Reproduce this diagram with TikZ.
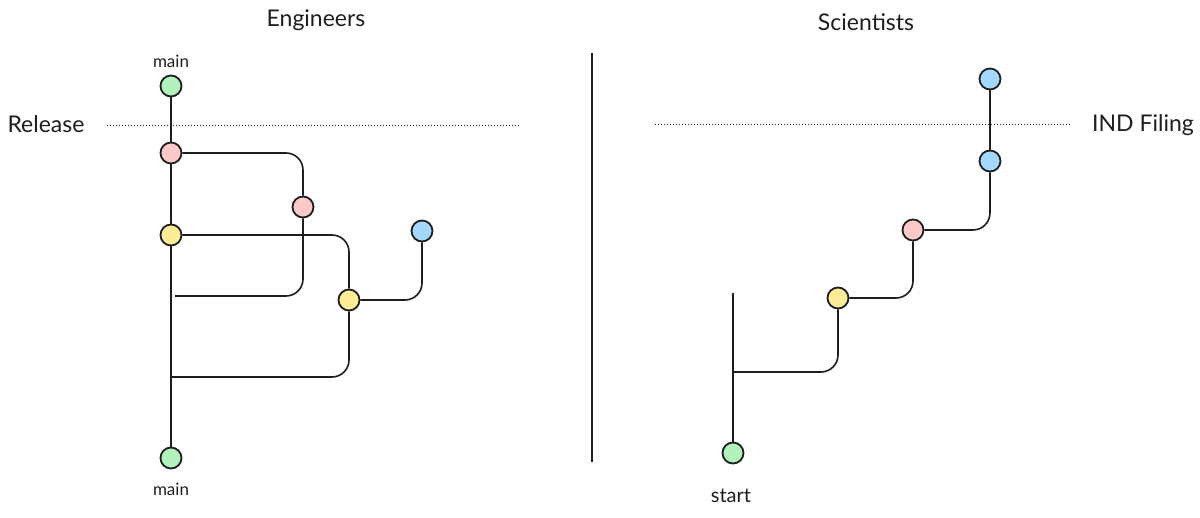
\documentclass[tikz,border=0pt]{standalone}
\usepackage{fontspec}
\setmainfont{Lato}
\usetikzlibrary{backgrounds}
\definecolor{stroke}{HTML}{1E1E1E}
\definecolor{cgreen}{HTML}{B2F2BB}
\definecolor{cpink}{HTML}{FFC9C9}
\definecolor{cyellow}{HTML}{FFEC99}
\definecolor{cblue}{HTML}{A5D8FF}
\tikzset{
  commit/.style={circle, draw=stroke, line width=1.8pt, minimum size=21pt, inner sep=0pt},
  gnode/.style={commit, fill=cgreen},
  pnode/.style={commit, fill=cpink},
  ynode/.style={commit, fill=cyellow},
  bnode/.style={commit, fill=cblue},
  branch/.style={draw=stroke, line width=1.6pt, rounded corners=17pt},
  trunk/.style={draw=stroke, line width=1.2pt},
  title/.style={font=\fontsize{23}{27}\selectfont, text=stroke},
  label/.style={font=\fontsize{23}{27}\selectfont, text=stroke},
  small/.style={font=\fontsize{17}{20}\selectfont, text=stroke},
  startlbl/.style={font=\fontsize{20}{24}\selectfont, text=stroke},
  milestone/.style={draw=stroke, line width=1pt, dotted},
}
\begin{document}
\begin{tikzpicture}[x=1pt,y=-1pt]
\useasboundingbox (0,0) rectangle (1200,518);
% ---------- Engineers ----------
\node[title] (teng) at (316,20) {Engineers};
\node[small] (mtop) at (171,61) {main};
\node[gnode] (gt) at (171,86) {};
\node[pnode] (pk1) at (171,153) {};
\node[pnode] (pk2) at (303,207) {};
\node[ynode] (yl1) at (171,235) {};
\node[bnode] (bl) at (422,231) {};
\node[ynode] (yl2) at (349,300) {};
\node[gnode] (gb) at (171,458) {};
\node[small] (mbot) at (171,489) {main};
\node[label] (rel) at (46,124) {Release};
\coordinate (rl0) at (107,126);
\coordinate (rl1) at (520,126);
\coordinate (m1) at (175,296);
\coordinate (m2) at (171,377);
% divider
\coordinate (d0) at (592,53);
\coordinate (d1) at (592,462);
% ---------- Scientists ----------
\node[title] (tsci) at (866,22) {Scientists};
\node[bnode] (sb1) at (990,79) {};
\node[bnode] (sb2) at (990,161) {};
\node[pnode] (sp) at (913,230) {};
\node[ynode] (sy) at (838,298) {};
\node[gnode] (sg) at (733,453) {};
\node[startlbl] (st) at (731,496) {start};
\node[label] (ind) at (1143,125) {IND Filing};
\coordinate (il0) at (655,125);
\coordinate (il1) at (1070,125);
\coordinate (s1) at (733,372);
\coordinate (s2) at (733,293);

\begin{scope}[on background layer]
  \draw[milestone] (rl0) -- (rl1);
  \draw[milestone] (il0) -- (il1);
  \draw[trunk] (gt) -- (pk1) -- (yl1) -- (gb);
  \draw[branch] (pk1.east) -| (pk2.north);
  \draw[branch] (pk2.south) |- (m1);
  \draw[branch] (yl1.east) -| (yl2.north);
  \draw[branch] (yl2.east) -| (bl.south);
  \draw[branch] (yl2.south) |- (m2);
  \draw[draw=stroke, line width=1.8pt] (d0) -- (d1);
  \draw[trunk] (sb1) -- (sb2);
  \draw[branch] (sb2.south) |- (sp.east);
  \draw[branch] (sp.south) |- (sy.east);
  \draw[branch] (sy.south) |- (s1);
  \draw[trunk] (s2) -- (sg.north);
\end{scope}
\end{tikzpicture}
\end{document}
